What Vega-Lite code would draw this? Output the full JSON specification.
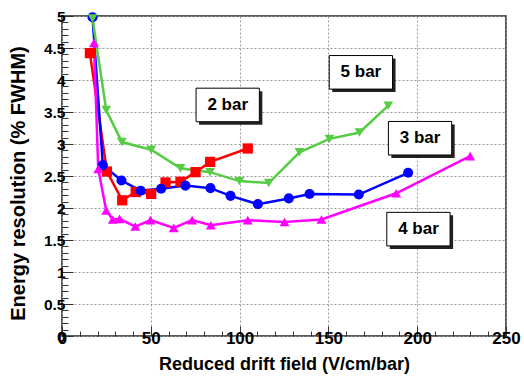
{
  "$schema": "https://vega.github.io/schema/vega-lite/v6.json",
  "width": 444,
  "height": 320,
  "autosize": {"type": "none"},
  "padding": {"left": 62, "top": 16, "right": 18, "bottom": 40},
  "background": "white",
  "config": {
    "view": {"stroke": "#222", "strokeWidth": 1.5},
    "font": "Liberation Sans",
    "axis": {"domain": false, "tickColor": "#333", "tickWidth": 1, "labelColor": "black", "titleColor": "black", "labelFont": "Liberation Sans", "titleFont": "Liberation Sans"}
  },
  "datasets": {
    "series": [
      {"series": "2 bar", "drift": 15.7, "resolution": 4.42},
      {"series": "2 bar", "drift": 25.3, "resolution": 2.57},
      {"series": "2 bar", "drift": 33.9, "resolution": 2.12},
      {"series": "2 bar", "drift": 41.5, "resolution": 2.25},
      {"series": "2 bar", "drift": 50.2, "resolution": 2.22},
      {"series": "2 bar", "drift": 58.3, "resolution": 2.40},
      {"series": "2 bar", "drift": 66.7, "resolution": 2.41},
      {"series": "2 bar", "drift": 75.2, "resolution": 2.56},
      {"series": "2 bar", "drift": 83.4, "resolution": 2.72},
      {"series": "2 bar", "drift": 104.6, "resolution": 2.93},
      {"series": "3 bar", "drift": 17.2, "resolution": 4.98},
      {"series": "3 bar", "drift": 23.0, "resolution": 2.67},
      {"series": "3 bar", "drift": 33.5, "resolution": 2.43},
      {"series": "3 bar", "drift": 44.3, "resolution": 2.27},
      {"series": "3 bar", "drift": 55.8, "resolution": 2.30},
      {"series": "3 bar", "drift": 69.5, "resolution": 2.35},
      {"series": "3 bar", "drift": 83.6, "resolution": 2.31},
      {"series": "3 bar", "drift": 94.9, "resolution": 2.19},
      {"series": "3 bar", "drift": 110.3, "resolution": 2.06},
      {"series": "3 bar", "drift": 127.7, "resolution": 2.15},
      {"series": "3 bar", "drift": 139.4, "resolution": 2.22},
      {"series": "3 bar", "drift": 167.1, "resolution": 2.21},
      {"series": "3 bar", "drift": 194.9, "resolution": 2.55},
      {"series": "4 bar", "drift": 18.0, "resolution": 4.58},
      {"series": "4 bar", "drift": 20.4, "resolution": 2.61},
      {"series": "4 bar", "drift": 24.9, "resolution": 1.96},
      {"series": "4 bar", "drift": 28.6, "resolution": 1.82},
      {"series": "4 bar", "drift": 32.4, "resolution": 1.83},
      {"series": "4 bar", "drift": 41.3, "resolution": 1.71},
      {"series": "4 bar", "drift": 49.8, "resolution": 1.81},
      {"series": "4 bar", "drift": 62.9, "resolution": 1.69},
      {"series": "4 bar", "drift": 73.3, "resolution": 1.81},
      {"series": "4 bar", "drift": 83.8, "resolution": 1.73},
      {"series": "4 bar", "drift": 104.6, "resolution": 1.81},
      {"series": "4 bar", "drift": 125.3, "resolution": 1.78},
      {"series": "4 bar", "drift": 146.1, "resolution": 1.82},
      {"series": "4 bar", "drift": 188.2, "resolution": 2.23},
      {"series": "4 bar", "drift": 229.8, "resolution": 2.81},
      {"series": "5 bar", "drift": 17.2, "resolution": 4.96},
      {"series": "5 bar", "drift": 24.9, "resolution": 3.53},
      {"series": "5 bar", "drift": 33.7, "resolution": 3.03},
      {"series": "5 bar", "drift": 50.2, "resolution": 2.91},
      {"series": "5 bar", "drift": 66.7, "resolution": 2.62},
      {"series": "5 bar", "drift": 83.4, "resolution": 2.56},
      {"series": "5 bar", "drift": 99.9, "resolution": 2.42},
      {"series": "5 bar", "drift": 116.4, "resolution": 2.39},
      {"series": "5 bar", "drift": 133.7, "resolution": 2.87},
      {"series": "5 bar", "drift": 150.6, "resolution": 3.08},
      {"series": "5 bar", "drift": 167.5, "resolution": 3.18},
      {"series": "5 bar", "drift": 183.7, "resolution": 3.60}
    ],
    "labels": [
      {"label": "2 bar", "drift": 93.3, "resolution": 3.61},
      {"label": "5 bar", "drift": 168.3, "resolution": 4.12},
      {"label": "3 bar", "drift": 201.6, "resolution": 3.09},
      {"label": "4 bar", "drift": 200.7, "resolution": 1.67}
    ]
  },
  "layer": [
    {
      "data": {"name": "series"},
      "mark": {"type": "point", "opacity": 0},
      "encoding": {
        "x": {
          "field": "drift", "type": "quantitative",
          "scale": {"domain": [0, 250], "nice": false, "zero": false},
          "axis": {
            "orient": "bottom",
            "values": [0, 50, 100, 150, 200, 250],
            "title": "Reduced drift field (V/cm/bar)",
            "grid": true, "gridDash": [2, 2], "gridColor": "#999", "gridWidth": 1,
            "tickSize": -10,
            "labelFontSize": 17, "labelFontWeight": "bold", "labelPadding": 4, "labelFlush": false,
            "labelExpr": "'' + datum.value",
            "titleFontSize": 18, "titleFontWeight": "bold", "titleY": 33, "titleBaseline": "alphabetic"
          }
        },
        "y": {
          "field": "resolution", "type": "quantitative",
          "scale": {"domain": [0, 5], "nice": false, "zero": false},
          "axis": {
            "orient": "left",
            "values": [0, 0.5, 1, 1.5, 2, 2.5, 3, 3.5, 4, 4.5, 5],
            "title": "Energy resolution (% FWHM)",
            "grid": true, "gridDash": [2, 2], "gridColor": "#999", "gridWidth": 1,
            "tickSize": -11,
            "labelFontSize": 15.5, "labelFontWeight": "bold", "labelPadding": 8, "labelFlush": false,
            "labelExpr": "'' + datum.value",
            "titleFontSize": 20, "titleFontWeight": "bold", "titleAngle": 270,
            "titleX": -38, "titleY": 167, "titleAlign": "center", "titleBaseline": "alphabetic"
          }
        }
      }
    },
    {
      "data": {"name": "series"},
      "mark": {"type": "point", "opacity": 0},
      "encoding": {
        "x": {
          "field": "drift", "type": "quantitative",
          "axis": {
            "orient": "bottom",
            "values": [10, 20, 30, 40, 60, 70, 80, 90, 110, 120, 130, 140, 160, 170, 180, 190, 210, 220, 230, 240],
            "title": null, "labels": false, "grid": false, "tickSize": -5
          }
        },
        "y": {
          "field": "resolution", "type": "quantitative",
          "axis": {
            "orient": "left",
            "values": [0.1, 0.2, 0.3, 0.4, 0.6, 0.7, 0.8, 0.9, 1.1, 1.2, 1.3, 1.4, 1.6, 1.7, 1.8, 1.9, 2.1, 2.2, 2.3, 2.4, 2.6, 2.7, 2.8, 2.9, 3.1, 3.2, 3.3, 3.4, 3.6, 3.7, 3.8, 3.9, 4.1, 4.2, 4.3, 4.4, 4.6, 4.7, 4.8, 4.9],
            "title": null, "labels": false, "grid": false, "tickSize": -6
          }
        }
      }
    },
    {
      "mark": {"type": "rule", "color": "#ff0000", "strokeWidth": 1.5},
      "encoding": {"y": {"datum": 0, "type": "quantitative", "axis": null}}
    },
    {
      "mark": {"type": "rule", "color": "#ff0000", "strokeWidth": 1.5, "xOffset": -1},
      "encoding": {"x": {"datum": 250, "type": "quantitative", "axis": null}}
    },
    {
      "data": {"name": "series"},
      "mark": {"type": "line", "strokeWidth": 2.5},
      "encoding": {
        "x": {"field": "drift", "type": "quantitative", "axis": null},
        "y": {"field": "resolution", "type": "quantitative", "axis": null},
        "color": {"field": "series", "type": "nominal", "legend": null,
          "scale": {"domain": ["2 bar", "3 bar", "4 bar", "5 bar"], "range": ["#ff0000", "#0000ff", "#ff00ff", "#55cc44"]}}
      }
    },
    {
      "data": {"name": "series"},
      "mark": {"type": "point", "filled": true, "opacity": 1},
      "encoding": {
        "x": {"field": "drift", "type": "quantitative", "axis": null},
        "y": {"field": "resolution", "type": "quantitative", "axis": null},
        "color": {"field": "series", "type": "nominal", "legend": null,
          "scale": {"domain": ["2 bar", "3 bar", "4 bar", "5 bar"], "range": ["#ff0000", "#0000ff", "#ff00ff", "#55cc44"]}},
        "shape": {"field": "series", "type": "nominal", "legend": null,
          "scale": {"domain": ["2 bar", "3 bar", "4 bar", "5 bar"], "range": ["square", "circle", "triangle-up", "triangle-down"]}},
        "size": {"field": "series", "type": "nominal", "legend": null,
          "scale": {"domain": ["2 bar", "3 bar", "4 bar", "5 bar"], "range": [105, 95, 170, 170]}}
      }
    },
    {
      "data": {"name": "labels"},
      "mark": {"type": "point", "shape": "M-1,-0.53L1,-0.53L1,0.53L-1,0.53Z", "filled": true, "fill": "#222", "opacity": 1, "size": 4007, "xOffset": 3, "yOffset": 3, "strokeWidth": 0},
      "encoding": {
        "x": {"field": "drift", "type": "quantitative", "axis": null},
        "y": {"field": "resolution", "type": "quantitative", "axis": null}
      }
    },
    {
      "data": {"name": "labels"},
      "mark": {"type": "point", "shape": "M-1,-0.53L1,-0.53L1,0.53L-1,0.53Z", "filled": true, "fill": "white", "stroke": "black", "strokeWidth": 1, "opacity": 1, "size": 4007},
      "encoding": {
        "x": {"field": "drift", "type": "quantitative", "axis": null},
        "y": {"field": "resolution", "type": "quantitative", "axis": null}
      }
    },
    {
      "data": {"name": "labels"},
      "mark": {"type": "text", "font": "Liberation Sans", "fontSize": 17, "fontWeight": "bold", "color": "black", "align": "center", "baseline": "middle"},
      "encoding": {
        "x": {"field": "drift", "type": "quantitative", "axis": null},
        "y": {"field": "resolution", "type": "quantitative", "axis": null},
        "text": {"field": "label", "type": "nominal"}
      }
    }
  ],
  "resolve": {"axis": {"x": "independent", "y": "independent"}}
}
